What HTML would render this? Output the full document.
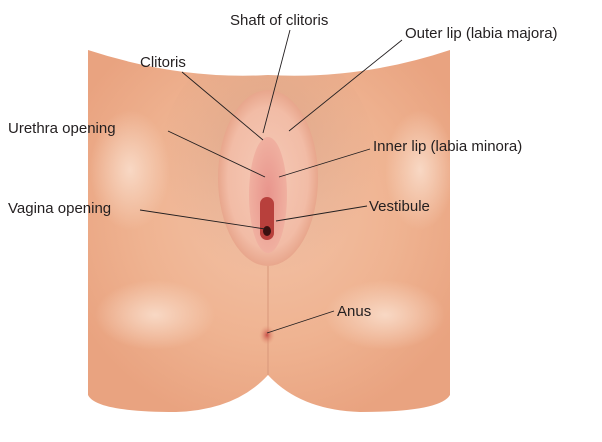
<!DOCTYPE html>
<html><head><style>
html,body{margin:0;padding:0;background:#fff;width:602px;height:442px;overflow:hidden}
svg text{font-family:"Liberation Sans",sans-serif;font-size:15px;fill:#231f20}
</style></head><body>
<svg width="602" height="442" viewBox="0 0 602 442" xmlns="http://www.w3.org/2000/svg">
<defs>
<radialGradient id="sk" cx="50%" cy="45%" r="60%">
<stop offset="0" stop-color="#f3c2a6"/><stop offset="0.6" stop-color="#efb391"/><stop offset="1" stop-color="#e9a380"/>
</radialGradient>
<radialGradient id="lt" cx="50%" cy="50%" r="50%">
<stop offset="0" stop-color="#f8d8c4"/><stop offset="1" stop-color="#f8d8c4" stop-opacity="0"/>
</radialGradient>
<radialGradient id="hair" cx="50%" cy="40%" r="50%">
<stop offset="0" stop-color="#c9937a" stop-opacity="0.45"/><stop offset="1" stop-color="#c9937a" stop-opacity="0"/>
</radialGradient>
<radialGradient id="lab" cx="50%" cy="50%" r="50%">
<stop offset="0" stop-color="#f5c9b6"/><stop offset="0.8" stop-color="#f2bca6"/><stop offset="1" stop-color="#e8a68c"/>
</radialGradient>
<radialGradient id="inn" cx="50%" cy="50%" r="50%">
<stop offset="0" stop-color="#e8948c"/><stop offset="1" stop-color="#f0b0a0"/>
</radialGradient>
<radialGradient id="an" cx="50%" cy="50%" r="50%">
<stop offset="0" stop-color="#c85048"/><stop offset="1" stop-color="#e8a080" stop-opacity="0"/>
</radialGradient>
<clipPath id="body"><path d="M88,50 Q180,80 268,75 Q360,80 450,50 L450,395 Q440,412 360,412 Q300,410 268,375 Q236,410 176,412 Q96,412 88,395 Z"/></clipPath>
</defs>
<path d="M88,50 Q180,80 268,75 Q360,80 450,50 L450,395 Q440,412 360,412 Q300,410 268,375 Q236,410 176,412 Q96,412 88,395 Z" fill="url(#sk)"/>
<g clip-path="url(#body)">
<ellipse cx="155" cy="315" rx="60" ry="35" fill="url(#lt)"/>
<ellipse cx="385" cy="315" rx="60" ry="35" fill="url(#lt)"/>
<ellipse cx="130" cy="170" rx="40" ry="60" fill="url(#lt)"/>
<ellipse cx="420" cy="170" rx="35" ry="60" fill="url(#lt)"/>
<ellipse cx="268" cy="170" rx="110" ry="130" fill="url(#hair)"/>
</g>
<ellipse cx="268" cy="178" rx="50" ry="88" fill="url(#lab)"/>
<ellipse cx="268" cy="195" rx="19" ry="58" fill="url(#inn)"/>
<rect x="260" y="197" width="14" height="43" rx="7" fill="#b8403c"/>
<ellipse cx="267" cy="231" rx="4" ry="5" fill="#3a1010"/>
<line x1="268" y1="266" x2="268" y2="375" stroke="#d8977a" stroke-width="1"/>
<ellipse cx="267" cy="335" rx="8" ry="10" fill="url(#an)"/>
<g stroke="#231f20" stroke-width="0.9" fill="none">
<line x1="290" y1="30" x2="263" y2="133"/>
<line x1="182" y1="72" x2="263" y2="140"/>
<line x1="402" y1="40" x2="289" y2="131"/>
<line x1="168" y1="131" x2="265" y2="177"/>
<line x1="370" y1="149" x2="279" y2="177"/>
<line x1="140" y1="210" x2="265" y2="229"/>
<line x1="367" y1="206" x2="276" y2="221"/>
<line x1="334" y1="311" x2="267" y2="333"/>
</g>
<text x="230" y="25">Shaft of clitoris</text>
<text x="140" y="67">Clitoris</text>
<text x="405" y="38">Outer lip (labia majora)</text>
<text x="8" y="133">Urethra opening</text>
<text x="373" y="151">Inner lip (labia minora)</text>
<text x="8" y="213">Vagina opening</text>
<text x="369" y="211">Vestibule</text>
<text x="337" y="316">Anus</text>
</svg>
</body></html>
